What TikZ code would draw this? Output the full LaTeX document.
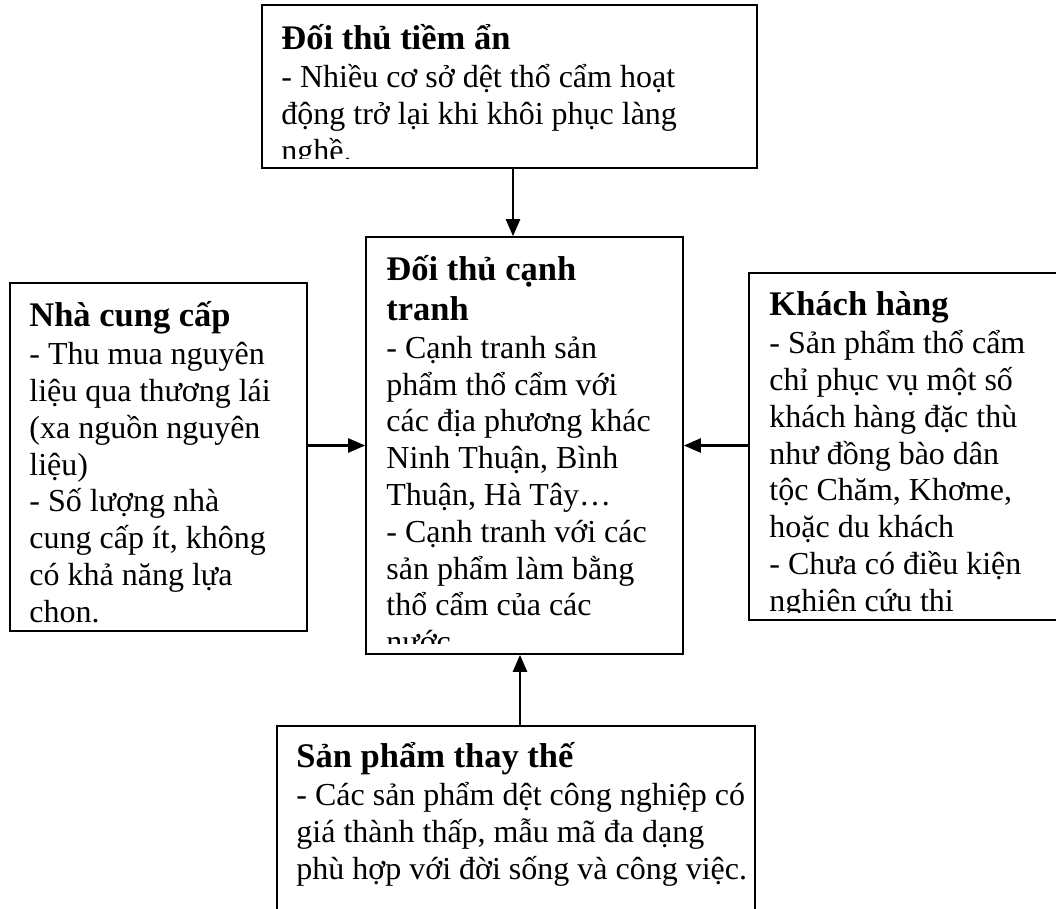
\documentclass[tikz,border=0pt]{standalone}
\usepackage{fontspec}
\setmainfont{Liberation Serif}
\usetikzlibrary{arrows.meta}
\newcommand{\forcetitle}[1]{\rule{0pt}{40pt}{\fontsize{34.5}{39.6}\selectfont\bfseries #1}}
\newcommand{\forcetitlecont}[1]{{\fontsize{34.5}{39.6}\selectfont\bfseries #1}}
\begin{document}
\begin{tikzpicture}[
    x=1pt, y=-1pt,
    force/.style={rectangle, draw=black, line width=1.6pt, inner sep=0pt},
    forcetext/.style={anchor=north west, inner sep=0pt, align=left, font=\fontsize{32}{36.8}\selectfont},
    arrow/.style={-{Triangle[length=17pt,width=14pt]}, line width=2.4pt, black}
]
\useasboundingbox (0,0) rectangle (1056,908);

\node[force, minimum width=495pt, minimum height=163pt] (entrant) at (509.5,86.5) {};
\node[force, minimum width=297pt, minimum height=348pt] (supplier) at (158.5,457) {};
\node[force, minimum width=317pt, minimum height=417pt] (rivalry) at (524.5,445.5) {};
\node[force, minimum width=321pt, minimum height=347pt] (buyer) at (909.5,446.5) {};
\node[force, minimum width=478pt, minimum height=204pt] (substitute) at (516,828) {};

\begin{scope}
  \clip ([yshift=10pt]entrant.south west) rectangle (entrant.north east);
  \node[forcetext] (entranttext) at ([shift={(20pt,-5pt)}]entrant.north west)
    {\forcetitle{Đối thủ tiềm ẩn}\\[1.5pt]
     - Nhiều cơ sở dệt thổ cẩm hoạt\\
     động trở lại khi khôi phục làng\\
     nghề.};
\end{scope}

\begin{scope}
  \clip ([yshift=8pt]supplier.south west) rectangle (supplier.north east);
  \node[forcetext] (suppliertext) at ([shift={(20pt,-4pt)}]supplier.north west)
    {\forcetitle{Nhà cung cấp}\\[1.5pt]
     - Thu mua nguyên\\
     liệu qua thương lái\\
     (xa nguồn nguyên\\
     liệu)\\
     - Số lượng nhà\\
     cung cấp ít, không\\
     có khả năng lựa\\
     chọn.};
\end{scope}

\begin{scope}
  \clip ([yshift=11pt]rivalry.south west) rectangle (rivalry.north east);
  \node[forcetext] (rivalrytext) at ([shift={(21pt,-4pt)}]rivalry.north west)
    {\forcetitle{Đối thủ cạnh}\\[2.8pt]
     \forcetitlecont{tranh}\\[1.5pt]
     - Cạnh tranh sản\\
     phẩm thổ cẩm với\\
     các địa phương khác\\
     Ninh Thuận, Bình\\
     Thuận, Hà Tây…\\
     - Cạnh tranh với các\\
     sản phẩm làm bằng\\
     thổ cẩm của các\\
     nước};
\end{scope}

\begin{scope}
  \clip ([yshift=8pt]buyer.south west) rectangle (buyer.north east);
  \node[forcetext] (buyertext) at ([shift={(21pt,-3pt)}]buyer.north west)
    {\forcetitle{Khách hàng}\\[1.5pt]
     - Sản phẩm thổ cẩm\\
     chỉ phục vụ một số\\
     khách hàng đặc thù\\
     như đồng bào dân\\
     tộc Chăm, Khơme,\\
     hoặc du khách\\
     - Chưa có điều kiện\\
     nghiên cứu thi};
\end{scope}

\begin{scope}
  \clip ([yshift=8pt]substitute.south west) rectangle (substitute.north east);
  \node[forcetext] (substitutetext) at ([shift={(20pt,-2pt)}]substitute.north west)
    {\forcetitle{Sản phẩm thay thế}\\[1.5pt]
     - Các sản phẩm dệt công nghiệp có\\
     giá thành thấp, mẫu mã đa dạng\\
     phù hợp với đời sống và công việc.};
\end{scope}

\coordinate (entrantout) at ([xshift=3.5pt]entrant.south);
\coordinate (substituteout) at ([xshift=4pt]substitute.north);

\draw[arrow] (entrantout) -- (entrantout |- rivalry.north);
\draw[arrow] (supplier.east |- rivalry.west) -- (rivalry.west);
\draw[arrow] (buyer.west |- rivalry.east) -- (rivalry.east);
\draw[arrow] (substituteout) -- (substituteout |- rivalry.south);
\end{tikzpicture}
\end{document}
